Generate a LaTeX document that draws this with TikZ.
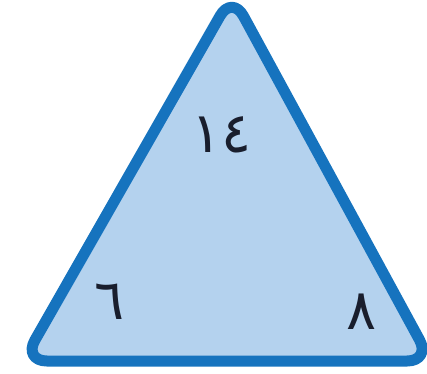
\documentclass[tikz,border=0pt]{standalone}
\usepackage{fontspec}
\newfontfamily\arabicfont[Script=Arabic]{DejaVu Sans}
\definecolor{edgeblue}{RGB}{22,115,190}
\definecolor{fillblue}{RGB}{180,210,238}
\definecolor{ink}{RGB}{25,30,45}
\begin{document}
\begin{tikzpicture}[x=1pt,y=-1pt,
  numtxt/.style={font=\arabicfont\fontsize{56}{64}\selectfont, text=ink, inner sep=0pt}]
\useasboundingbox (0,0) rectangle (427,373);
\coordinate (A) at (232,-5);
\coordinate (B) at (23,361);
\coordinate (C) at (431,361);
\draw[line width=11pt, draw=edgeblue, fill=fillblue, rounded corners=24pt, line join=round]
  (A) -- (B) -- (C) -- cycle;
\node[numtxt] (top) at (222,135) {١٤};
\node[numtxt] (left) at (110,302) {٦};
\node[numtxt] (right) at (362,312) {٨};
\end{tikzpicture}
\end{document}
